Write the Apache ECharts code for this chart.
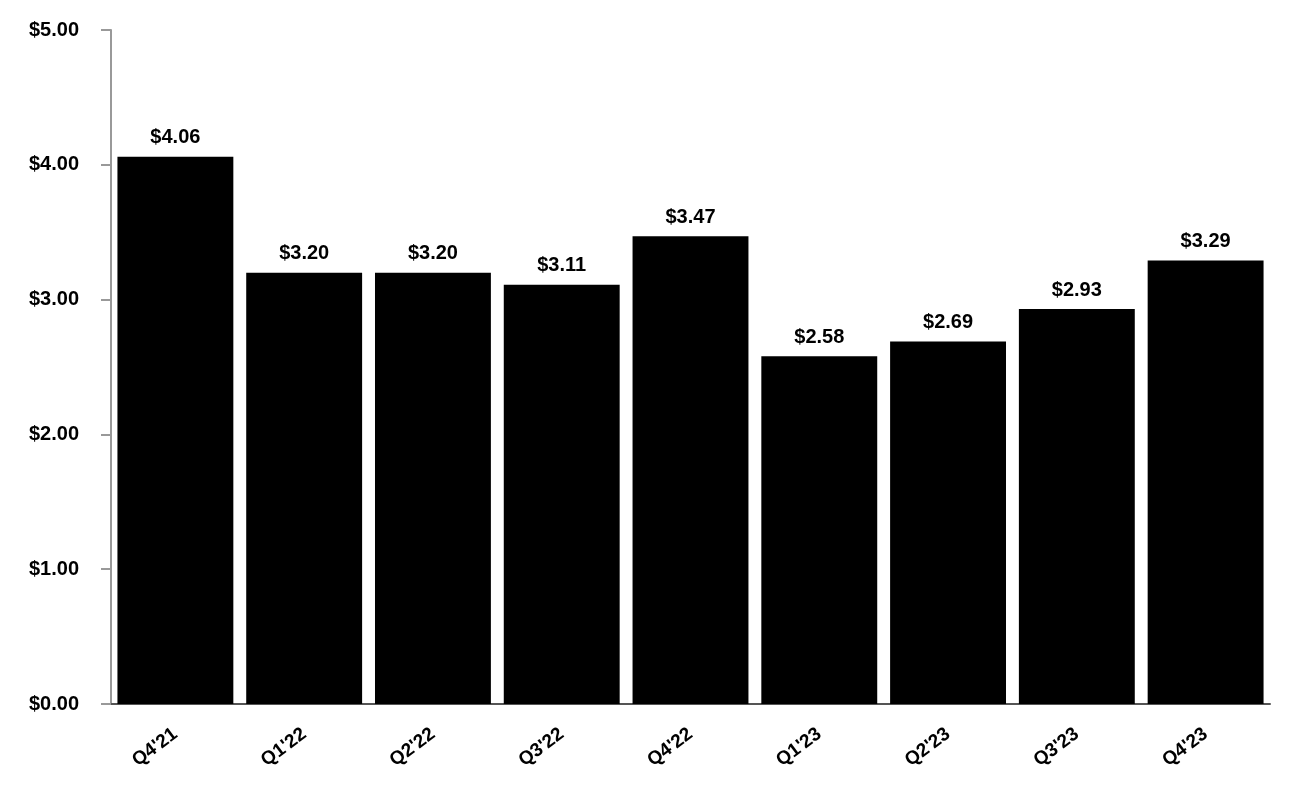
<!DOCTYPE html>
<html><head><meta charset="utf-8">
<script src="https://cdn.jsdelivr.net/npm/echarts@6/dist/echarts.min.js"></script>
<style>html,body{margin:0;padding:0;background:#fff}#c{width:1300px;height:800px}</style>
</head><body><div id="c"></div>
<script>
const categories = ["Q4'21","Q1'22","Q2'22","Q3'22","Q4'22","Q1'23","Q2'23","Q3'23","Q4'23"];
const values = [4.06,3.20,3.20,3.11,3.47,2.58,2.69,2.93,3.29];
const chart = echarts.init(document.getElementById('c'));
const font = '"Liberation Sans", Arial, sans-serif';
chart.setOption({
  animation:false,
  grid:{left:111,right:30,top:30,bottom:96,containLabel:false},
  xAxis:{type:'category',data:categories,
    axisLine:{lineStyle:{color:'#555',width:2}},axisTick:{show:false},
    axisLabel:{rotate:37,fontFamily:font,fontWeight:'bold',fontSize:19,color:'#000',margin:28}},
  yAxis:{type:'value',min:0,max:5,interval:1,
    axisLine:{show:true,lineStyle:{color:'#999',width:2}},
    axisTick:{show:true,length:10,lineStyle:{color:'#999',width:2}},
    splitLine:{show:false},
    axisLabel:{fontFamily:font,fontWeight:'bold',fontSize:20,color:'#000',margin:32,formatter:v=>'$'+v.toFixed(2)}},
  series:[{type:'bar',data:values,barCategoryGap:'10%',itemStyle:{color:'#000'},
    label:{show:true,position:'top',distance:9,fontFamily:font,fontWeight:'bold',fontSize:20,color:'#000',formatter:p=>'$'+p.value.toFixed(2)}}]
});
</script></body></html>
